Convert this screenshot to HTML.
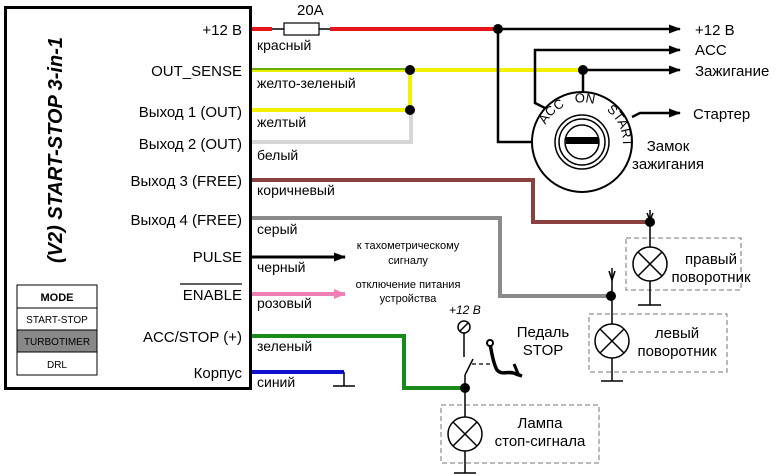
<!DOCTYPE html>
<html><head><meta charset="utf-8"><style>
body{margin:0;background:#fff;width:780px;height:475px;overflow:hidden}
svg{display:block;font-family:"Liberation Sans",sans-serif}
</style></head><body>
<svg width="780" height="475" viewBox="0 0 780 475" xmlns="http://www.w3.org/2000/svg">
<defs>
<marker id="ah" markerWidth="12" markerHeight="9" refX="11" refY="4.5" orient="auto" markerUnits="userSpaceOnUse"><path d="M0,0 L12,4.5 L0,9 Z" fill="#000"/></marker>
<marker id="ahp" markerWidth="12" markerHeight="10" refX="11" refY="5" orient="auto" markerUnits="userSpaceOnUse"><path d="M0,0 L12,5 L0,10 Z" fill="#f07fb8"/></marker>
<path id="arc" d="M543,156 A41,41 0 1 1 621,156"/>
</defs>
<rect x="5.5" y="7.5" width="245" height="381" fill="#fff" stroke="#000" stroke-width="3"/>
<text transform="translate(62,150) rotate(-90)" text-anchor="middle" font-size="20" font-weight="bold" font-style="italic">(V2) START-STOP 3-in-1</text>
<g stroke="#000">
<rect x="17" y="285" width="80" height="23" fill="#fff"/>
<rect x="17" y="308" width="80" height="22" fill="#fff"/>
<rect x="17" y="330" width="80" height="22" fill="#888"/>
<rect x="17" y="352" width="80" height="23" fill="#fff"/>
</g>
<g font-size="10" text-anchor="middle">
<text x="57" y="301" font-weight="bold" font-size="11">MODE</text>
<text x="57" y="323">START-STOP</text>
<text x="57" y="345">TURBOTIMER</text>
<text x="57" y="368">DRL</text>
</g>
<g font-size="15" text-anchor="end">
<text x="242" y="35">+12 В</text>
<text x="242" y="76">OUT_SENSE</text>
<text x="242" y="117">Выход 1 (OUT)</text>
<text x="242" y="149">Выход 2 (OUT)</text>
<text x="242" y="186">Выход 3 (FREE)</text>
<text x="242" y="225">Выход 4 (FREE)</text>
<text x="242" y="262">PULSE</text>
<text x="242" y="300">ENABLE</text>
<text x="242" y="342">ACC/STOP (+)</text>
<text x="242" y="378">Корпус</text>
</g>
<line x1="180" y1="284" x2="242" y2="284" stroke="#000" stroke-width="1.2"/>
<g font-size="14">
<text x="257" y="50">красный</text>
<text x="257" y="88">желто-зеленый</text>
<text x="257" y="127">желтый</text>
<text x="257" y="160">белый</text>
<text x="257" y="195">коричневый</text>
<text x="257" y="234">серый</text>
<text x="257" y="272">черный</text>
<text x="257" y="308">розовый</text>
<text x="257" y="351">зеленый</text>
<text x="257" y="387">синий</text>
</g>
<g fill="none" stroke-linejoin="miter">
<line x1="252" y1="29" x2="272" y2="29" stroke="#e8141c" stroke-width="4"/>
<line x1="272" y1="29" x2="330" y2="29" stroke="#000" stroke-width="1.5"/>
<rect x="284" y="23" width="35" height="12" fill="#fff" stroke="#000" stroke-width="1.2"/>
<line x1="330" y1="29" x2="498" y2="29" stroke="#e8141c" stroke-width="4"/>
<polyline points="252,142 411,142 411,112" stroke="#d6d6d6" stroke-width="4"/>
<line x1="252" y1="70" x2="410" y2="70" stroke="#e8ee00" stroke-width="4"/>
<line x1="252" y1="69" x2="410" y2="69" stroke="#3a9a00" stroke-width="1.5"/>
<line x1="410" y1="70" x2="583" y2="70" stroke="#f0f000" stroke-width="4"/>
<polyline points="252,110 410,110 410,70" stroke="#f0f000" stroke-width="4"/>
<polyline points="252,180 533,180 533,222 650,222" stroke="#8b4040" stroke-width="4"/>
<polyline points="252,218 500,218 500,296 611,296" stroke="#8a8a8a" stroke-width="4"/>
<line x1="252" y1="257" x2="345" y2="257" stroke="#000" stroke-width="3" marker-end="url(#ah)"/>
<line x1="252" y1="294" x2="345" y2="294" stroke="#f07fb8" stroke-width="4" marker-end="url(#ahp)"/>
<polyline points="252,336 404,336 404,388 465,388" stroke="#1a8a1a" stroke-width="4"/>
<line x1="252" y1="372" x2="344" y2="372" stroke="#1010d0" stroke-width="4"/>
<polyline points="344,372 344,386" stroke="#000" stroke-width="1.5"/>
<line x1="333" y1="386" x2="355" y2="386" stroke="#000" stroke-width="1.5"/>
<g stroke="#000" stroke-width="2.5">
<line x1="498" y1="29" x2="680" y2="29" marker-end="url(#ah)"/>
<polyline points="498,29 498,142 533,142"/>
<polyline points="545,108 535,103 535,50 680,50" marker-end="url(#ah)"/>
<line x1="583" y1="70" x2="680" y2="70" marker-end="url(#ah)"/>
<line x1="583" y1="70" x2="583" y2="92"/>
<polyline points="632,117 640,113 680,113" marker-end="url(#ah)"/>
</g>
<circle cx="582" cy="142" r="50" fill="#fff" stroke="#000" stroke-width="2"/>
<circle cx="582" cy="142" r="27" stroke="#000" stroke-width="1.5"/>
<circle cx="582" cy="142" r="23" stroke="#000" stroke-width="1.5"/>
<circle cx="582" cy="142" r="17" stroke="#000" stroke-width="1.5"/>
<rect x="566" y="137" width="33" height="7" fill="#000" stroke="none"/>
</g>
<g font-size="13">
<text><textPath href="#arc" startOffset="32">ACC</textPath></text>
<text><textPath href="#arc" startOffset="70">ON</textPath></text>
<text><textPath href="#arc" startOffset="103">START</textPath></text>
</g>
<g fill="#000">
<circle cx="498" cy="29" r="5"/><circle cx="410" cy="70" r="5"/><circle cx="410" cy="110" r="5"/>
<circle cx="583" cy="70" r="5"/><circle cx="650" cy="222" r="5"/><circle cx="611" cy="296" r="5"/><circle cx="465" cy="388" r="5"/>
</g>
<g font-size="15">
<text x="297" y="15">20А</text>
<text x="695" y="35">+12 В</text>
<text x="695" y="55">ACC</text>
<text x="695" y="76">Зажигание</text>
<text x="693" y="119">Стартер</text>
<text x="668" y="151" text-anchor="middle">Замок</text>
<text x="668" y="169" text-anchor="middle">зажигания</text>
</g>
<g font-size="11" text-anchor="middle">
<text x="408" y="249">к тахометрическому</text>
<text x="408" y="264">сигналу</text>
<text x="408" y="288">отключение питания</text>
<text x="408" y="302">устройства</text>
</g>
<g fill="none" stroke="#000" stroke-width="1.5">
<rect x="626" y="238" width="115" height="52" stroke="#777" stroke-dasharray="5,3" stroke-width="1"/>
<rect x="589" y="314" width="138" height="58" stroke="#777" stroke-dasharray="5,3" stroke-width="1"/>
<rect x="441" y="405" width="158" height="58" stroke="#777" stroke-dasharray="5,3" stroke-width="1"/>
<line x1="650" y1="210" x2="650" y2="247"/><line x1="650" y1="281" x2="650" y2="305"/><line x1="638" y1="305" x2="661" y2="305"/>
<path d="M647,213 L650,220 L653,213"/>
<circle cx="650" cy="264" r="17"/><path d="M638,252 L662,276 M662,252 L638,276"/>
<line x1="612" y1="268" x2="612" y2="324"/><line x1="612" y1="358" x2="612" y2="381"/><line x1="601" y1="381" x2="623" y2="381"/>
<path d="M609,271 L612,280 L615,271"/>
<circle cx="612" cy="341" r="17"/><path d="M600,329 L624,353 M624,329 L600,353"/>
<line x1="465" y1="388" x2="465" y2="417"/><line x1="465" y1="451" x2="465" y2="473"/><line x1="454" y1="473" x2="476" y2="473"/>
<circle cx="465" cy="434" r="17"/><path d="M453,422 L477,446 M477,422 L453,446"/>
<circle cx="464" cy="327" r="6"/><line x1="460" y1="331" x2="468" y2="323"/>
<line x1="464" y1="333" x2="464" y2="357"/>
<line x1="465" y1="388" x2="465" y2="375"/><line x1="465" y1="375" x2="473" y2="359"/>
<line x1="472" y1="364" x2="494" y2="364" stroke-dasharray="4,3" stroke-width="1.2"/>
<path d="M490,343 C492,356 494,365 497,370 C502,376 510,370 516,374 L522,376" stroke-width="3.5"/>
<path d="M514,364 L519,376" stroke-width="3"/>
</g>
<circle cx="490" cy="343" r="3" fill="#fff" stroke="#000" stroke-width="2"/>
<text x="449" y="314" font-size="12" font-style="italic">+12 В</text>
<g font-size="15" text-anchor="middle">
<text x="543" y="337">Педаль</text><text x="543" y="355">STOP</text>
<text x="711" y="264">правый</text><text x="711" y="282">поворотник</text>
<text x="677" y="338">левый</text><text x="677" y="356">поворотник</text>
<text x="540" y="428">Лампа</text><text x="540" y="446">стоп-сигнала</text>
</g>
</svg>
</body></html>
